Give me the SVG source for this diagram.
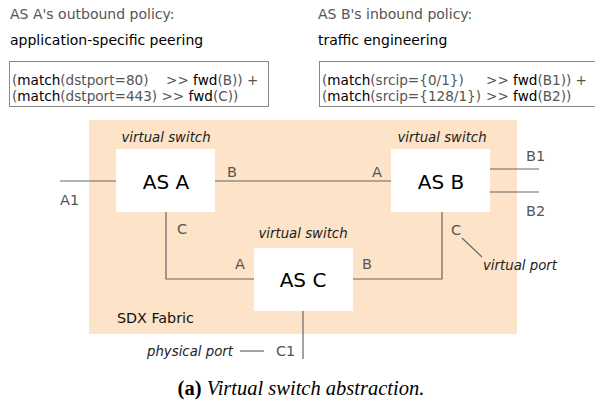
<svg xmlns="http://www.w3.org/2000/svg" width="595" height="403" viewBox="0 0 595 403">
<style>
text{font-family:"DejaVu Sans","Liberation Sans",sans-serif}
.g{fill:#555}
.k{fill:#000}
.t{font-size:14px}
.code{font-size:13.6px;fill:#555}
.code .b{fill:#000}
.vs{font-size:13.3px;font-style:italic;fill:#222}
.port{font-size:14.5px;fill:#555}
.name{font-size:20px;fill:#000;text-anchor:middle}
.box{fill:#fff;stroke:none}
.ln{stroke:#666;stroke-width:1.2;fill:none}
</style>
<rect width="595" height="403" fill="#fff"/>
<g id="policyA">
<text class="t g" x="10" y="19">AS A's outbound policy:</text>
<text class="t k" x="10" y="45">application-specific peering</text>
<rect x="9.5" y="61.5" width="259" height="45" fill="#fff" stroke="#888"/>
<text class="code" x="12" y="85"><tspan>(</tspan><tspan class="b">match</tspan><tspan>(dstport=80)</tspan></text>
<text class="code" x="166" y="85">&gt;&gt; <tspan class="b">fwd</tspan>(B)) +</text>
<text class="code" x="12" y="101"><tspan>(</tspan><tspan class="b">match</tspan><tspan>(dstport=443) &gt;&gt; </tspan><tspan class="b">fwd</tspan><tspan>(C))</tspan></text>
</g>
<g id="policyB">
<text class="t g" x="318" y="19">AS B's inbound policy:</text>
<text class="t k" x="318" y="45">traffic engineering</text>
<rect x="319.5" y="61.5" width="290" height="45" fill="#fff" stroke="#888"/>
<text class="code" x="322" y="85"><tspan>(</tspan><tspan class="b">match</tspan><tspan>(srcip={0/1})</tspan></text>
<text class="code" x="486" y="85">&gt;&gt; <tspan class="b">fwd</tspan>(B1)) +</text>
<text class="code" x="322" y="101"><tspan>(</tspan><tspan class="b">match</tspan><tspan>(srcip={128/1})</tspan></text>
<text class="code" x="486" y="101">&gt;&gt; <tspan class="b">fwd</tspan>(B2))</text>
</g>
<g id="fabric">
<rect x="89" y="120" width="428" height="214" fill="#fde3c8"/>
<text x="117" y="323" style="font-size:14.3px;fill:#111">SDX Fabric</text>
</g>
<g id="connectors">
<line class="ln" x1="60" y1="181" x2="116" y2="181"/>
<line class="ln" x1="215" y1="181" x2="391" y2="181"/>
<polyline class="ln" points="166,212 166,279 254,279"/>
<polyline class="ln" points="442,212 442,279 353,279"/>
<line class="ln" x1="490" y1="169" x2="539" y2="169"/>
<line class="ln" x1="490" y1="192" x2="539" y2="192"/>
<line class="ln" x1="303" y1="311" x2="303" y2="359"/>
<line class="ln" x1="462" y1="238" x2="482" y2="257"/>
<line class="ln" x1="240" y1="351" x2="264" y2="351"/>
</g>
<g id="asA">
<rect class="box" x="116" y="149" width="99" height="63"/>
<text class="vs" x="166" y="142" text-anchor="middle">virtual switch</text>
<text class="name" x="166" y="189">AS A</text>
<text class="port" x="60" y="205">A1</text>
<text class="port" x="227" y="177">B</text>
<text class="port" x="177" y="234">C</text>
</g>
<g id="asB">
<rect class="box" x="391" y="149" width="99" height="63"/>
<text class="vs" x="442" y="142" text-anchor="middle">virtual switch</text>
<text class="name" x="441" y="189">AS B</text>
<text class="port" x="372" y="177">A</text>
<text class="port" x="526" y="161">B1</text>
<text class="port" x="526" y="216">B2</text>
<text class="port" x="451" y="235">C</text>
<text class="vs" x="483" y="270">virtual port</text>
</g>
<g id="asC">
<rect class="box" x="254" y="248" width="99" height="63"/>
<text class="vs" x="303" y="238" text-anchor="middle">virtual switch</text>
<text class="name" x="303" y="287">AS C</text>
<text class="port" x="235" y="269">A</text>
<text class="port" x="362" y="269">B</text>
<text class="port" x="276" y="356">C1</text>
<text class="vs" x="233" y="356" text-anchor="end">physical port</text>
</g>
<text x="301" y="395" text-anchor="middle" style="font-family:'Liberation Serif',serif;font-size:20.5px;fill:#000"><tspan font-weight="bold">(a)</tspan><tspan font-style="italic"> Virtual switch abstraction.</tspan></text>
</svg>
